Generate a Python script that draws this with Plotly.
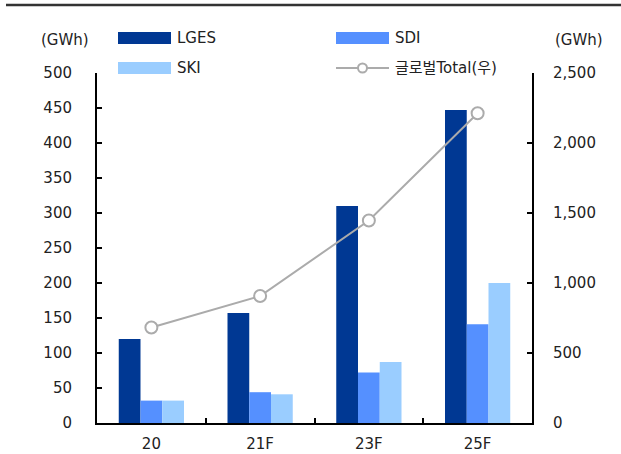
import plotly.graph_objects as go

# Battery shipment data (GWh)
categories = ["20", "21F", "23F", "25F"]
lges = [120, 157, 310, 447]
sdi = [32, 44, 72, 141]
ski = [32, 41, 87, 200]
global_total = [682, 907, 1446, 2213]

left_ticks = list(range(0, 501, 50))
right_ticks = list(range(0, 2501, 500))
right_tick_text = [f"{v:,}" for v in right_ticks]

C_LGES = "#003893"
C_SDI = "#5590FF"
C_SKI = "#9ACDFF"
C_LINE = "#ABABAB"
FONT = "DejaVu Sans, Noto Sans CJK KR, sans-serif"
TXT = "#222222"

W, H = 621, 454
ML, MR, MT, MB = 97, 89, 73, 31
PW, PH = W - ML - MR, H - MT - MB


def px(x):
    return (x - ML) / PW


def py(y):
    return (H - MB - y) / PH


fig = go.Figure()
fig.add_bar(x=categories, y=lges, name="LGES", marker=dict(color=C_LGES, line=dict(width=0)))
fig.add_bar(x=categories, y=sdi, name="SDI", marker=dict(color=C_SDI, line=dict(width=0)))
fig.add_bar(x=categories, y=ski, name="SKI", marker=dict(color=C_SKI, line=dict(width=0)))
fig.add_scatter(
    x=categories, y=global_total, name="글로벌Total(우)", yaxis="y2",
    mode="lines+markers",
    line=dict(color=C_LINE, width=2),
    marker=dict(size=12, color="white", line=dict(color=C_LINE, width=2)),
)

shapes = [
    # top rule across the page
    dict(type="line", xref="paper", yref="paper", x0=px(6), x1=px(621), y0=py(5), y1=py(5),
         line=dict(color="#333333", width=2.5)),
]
annotations = [
    dict(text="(GWh)", xref="paper", yref="paper", x=px(65), y=py(40), showarrow=False,
         xanchor="center", yanchor="middle", font=dict(family=FONT, size=15, color=TXT)),
    dict(text="(GWh)", xref="paper", yref="paper", x=px(579), y=py(40), showarrow=False,
         xanchor="center", yanchor="middle", font=dict(family=FONT, size=15, color=TXT)),
]

# legend: two columns, swatch + label
legend_items = [
    ("LGES", C_LGES, 118, 38, "bar"),
    ("SKI", C_SKI, 118, 68, "bar"),
    ("SDI", C_SDI, 336, 38, "bar"),
    ("글로벌Total(우)", C_LINE, 336, 68, "line"),
]
for label, color, x0, yc, kind in legend_items:
    if kind == "bar":
        shapes.append(dict(type="rect", xref="paper", yref="paper",
                           x0=px(x0), x1=px(x0 + 53), y0=py(yc - 6), y1=py(yc + 6),
                           fillcolor=color, line=dict(width=0)))
    else:
        shapes.append(dict(type="line", xref="paper", yref="paper",
                           x0=px(x0), x1=px(x0 + 53), y0=py(yc), y1=py(yc),
                           line=dict(color=color, width=2)))
        shapes.append(dict(type="circle", xref="paper", yref="paper",
                           x0=px(x0 + 22), x1=px(x0 + 31), y0=py(yc - 4.5), y1=py(yc + 4.5),
                           fillcolor="white", line=dict(color=color, width=2)))
    annotations.append(dict(text=label, xref="paper", yref="paper", x=px(x0 + 57), y=py(yc),
                            showarrow=False, xanchor="left", yanchor="middle",
                            font=dict(family=FONT, size=15, color=TXT)))

fig.update_layout(
    width=W, height=H,
    margin=dict(l=ML, r=MR, t=MT, b=MB, pad=0, autoexpand=False),
    paper_bgcolor="white", plot_bgcolor="white",
    barmode="group", bargap=0.4, bargroupgap=0,
    showlegend=False,
    font=dict(family=FONT, size=15, color=TXT),
    xaxis=dict(
        type="category", showline=True, linecolor="black", linewidth=2,
        ticks="inside", tickson="boundaries", ticklen=5, tickwidth=2, tickcolor="black",
        showgrid=False, tickfont=dict(size=15, color=TXT), ticklabelstandoff=6,
        automargin=False,
    ),
    yaxis=dict(
        range=[0, 500], tickvals=left_ticks, showline=True, linecolor="black", linewidth=2,
        ticks="inside", ticklen=5, tickwidth=2, tickcolor="black",
        showgrid=False, zeroline=False, tickfont=dict(size=15, color=TXT),
        ticklabelstandoff=20, automargin=False,
    ),
    yaxis2=dict(
        range=[0, 2500], tickvals=right_ticks, ticktext=right_tick_text,
        overlaying="y", side="right", showline=True, linecolor="black", linewidth=2,
        ticks="inside", ticklen=5, tickwidth=2, tickcolor="black",
        showgrid=False, zeroline=False, tickfont=dict(size=15, color=TXT),
        ticklabelstandoff=16, automargin=False,
    ),
    shapes=shapes,
    annotations=annotations,
)

fig.write_html("out.html")
